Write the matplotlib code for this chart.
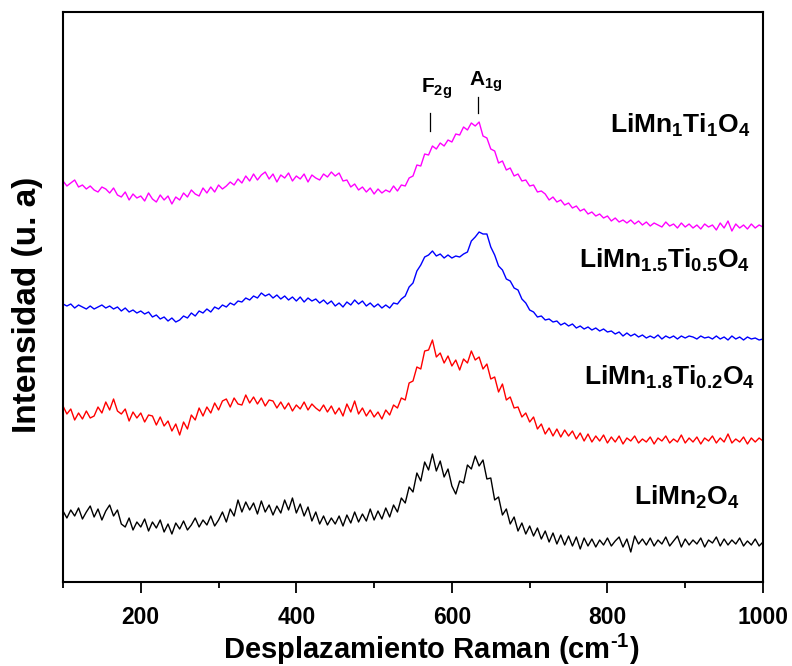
import numpy as np
import matplotlib.pyplot as plt

plt.rcParams['font.family'] = 'Liberation Sans'
plt.rcParams['font.weight'] = 'bold'
plt.rcParams['mathtext.fontset'] = 'custom'
plt.rcParams['mathtext.rm'] = 'Liberation Sans:bold'
plt.rcParams['mathtext.bf'] = 'Liberation Sans:bold'
plt.rcParams['mathtext.it'] = 'Liberation Sans:bold'
plt.rcParams['mathtext.default'] = 'bf'

# Raman shift grid (cm-1), one point every 5 cm-1
shift = np.arange(100, 1001, 5)

# stacked spectra (arbitrary units, offsets already applied)
limn2o4 = [
    71, 64, 72, 66, 74, 63, 70, 76, 65, 73, 62, 71, 77, 66, 72, 58, 55, 64, 52, 60,
    55, 63, 51, 60, 54, 62, 50, 58, 48, 59, 53, 61, 52, 57, 64, 55, 62, 57, 66, 56,
    62, 70, 60, 73, 66, 82, 70, 80, 72, 79, 68, 81, 70, 77, 67, 76, 69, 82, 72, 84,
    69, 78, 66, 75, 61, 70, 58, 66, 57, 64, 58, 66, 56, 67, 59, 70, 60, 68, 61, 73,
    62, 71, 63, 74, 65, 77, 70, 84, 79, 95, 90, 109, 101, 120, 112, 128, 111, 121, 105, 113,
    96, 88, 101, 99, 117, 113, 126, 116, 122, 103, 104, 82, 85, 67, 73, 58, 65, 51, 59, 48,
    56, 46, 54, 43, 51, 40, 49, 38, 47, 37, 46, 36, 45, 33, 44, 36, 43, 35, 42, 37,
    44, 36, 41, 45, 35, 43, 30, 46, 38, 43, 37, 44, 36, 42, 38, 45, 36, 41, 46, 35,
    43, 37, 42, 38, 44, 35, 42, 39, 45, 36, 43, 37, 42, 38, 44, 36, 41, 37, 43, 36,
    40,
]
limn18ti02o4 = [
    176, 168, 173, 162, 169, 163, 171, 164, 166, 175, 169, 180, 172, 183, 171, 168, 173, 161, 170, 164,
    169, 160, 167, 166, 157, 165, 156, 161, 151, 158, 147, 160, 153, 167, 162, 174, 166, 175, 169, 179,
    172, 181, 183, 175, 184, 178, 177, 187, 179, 185, 178, 184, 176, 182, 181, 174, 180, 173, 179, 171,
    177, 173, 180, 172, 178, 174, 171, 177, 170, 176, 168, 174, 166, 178, 170, 181, 168, 174, 166, 172,
    165, 170, 163, 172, 167, 177, 174, 184, 182, 199, 201, 215, 213, 231, 232, 242, 225, 229, 219, 226,
    216, 222, 212, 223, 219, 231, 222, 225, 213, 218, 203, 205, 190, 198, 182, 185, 174, 175, 165, 169,
    160, 165, 153, 158, 148, 154, 146, 153, 145, 152, 146, 151, 143, 149, 141, 148, 140, 146, 141, 147,
    139, 145, 140, 146, 138, 144, 141, 146, 139, 143, 140, 145, 138, 144, 141, 146, 139, 143, 140, 147,
    139, 144, 140, 145, 138, 144, 141, 146, 139, 144, 140, 148, 139, 143, 140, 145, 138, 144, 140, 144,
    141,
]
limn15ti05o4 = [
    278, 276, 278, 274, 277, 275, 273, 276, 273, 275, 277, 274, 276, 273, 275, 271, 274, 270, 272, 269,
    271, 268, 270, 265, 267, 263, 265, 261, 264, 260, 262, 266, 264, 269, 266, 271, 269, 273, 270, 275,
    273, 277, 275, 279, 277, 281, 280, 284, 282, 286, 284, 289, 286, 288, 284, 287, 283, 286, 282, 285,
    281, 285, 280, 284, 281, 283, 279, 282, 278, 281, 276, 279, 275, 280, 277, 282, 278, 281, 276, 279,
    275, 278, 274, 277, 274, 279, 278, 283, 286, 295, 299, 311, 317, 325, 327, 331, 326, 328, 324, 327,
    324, 326, 325, 328, 330, 341, 345, 350, 348, 348, 335, 327, 316, 312, 303, 301, 294, 292, 283, 279,
    272, 270, 265, 266, 262, 263, 260, 261, 257, 259, 256, 258, 254, 256, 253, 255, 252, 254, 251, 253,
    250, 251, 248, 250, 246, 249, 246, 248, 245, 247, 244, 246, 244, 247, 243, 246, 244, 246, 243, 246,
    244, 246, 245, 243, 246, 244, 245, 243, 246, 243, 245, 242, 246, 243, 245, 242, 245, 243, 244, 242,
    243,
]
limn1ti1o4 = [
    401, 396, 399, 402, 395, 397, 393, 396, 392, 390, 395, 393, 389, 394, 387, 385, 390, 382, 388, 384,
    386, 381, 389, 383, 380, 387, 382, 386, 378, 385, 382, 389, 385, 392, 388, 386, 394, 389, 395, 390,
    397, 393, 396, 400, 397, 403, 399, 406, 401, 408, 402, 407, 410, 403, 408, 400, 407, 404, 409, 401,
    406, 403, 408, 400, 407, 404, 402, 408, 405, 410, 406, 409, 401, 402, 395, 398, 392, 395, 390, 394,
    388, 393, 389, 392, 390, 396, 391, 397, 396, 404, 406, 417, 416, 428, 427, 436, 433, 439, 436, 442,
    440, 448, 447, 455, 452, 459, 456, 460, 446, 444, 433, 431, 419, 421, 412, 414, 406, 408, 401, 402,
    396, 397, 390, 391, 388, 382, 385, 380, 382, 377, 379, 374, 376, 371, 373, 368, 370, 366, 368, 364,
    366, 361, 364, 360, 362, 359, 362, 358, 361, 357, 360, 356, 359, 357, 355, 360, 356, 358, 354, 359,
    355, 358, 354, 357, 353, 358, 355, 357, 352, 359, 354, 361, 351, 358, 354, 357, 353, 358, 354, 357,
    355,
]

spectra = [limn2o4, limn18ti02o4, limn15ti05o4, limn1ti1o4]
colors = ['black', 'red', 'blue', 'magenta']
names = [r'LiMn$_2$O$_4$', r'LiMn$_{1.8}$Ti$_{0.2}$O$_4$',
         r'LiMn$_{1.5}$Ti$_{0.5}$O$_4$', r'LiMn$_1$Ti$_1$O$_4$']
label_x = [970, 990, 983, 983]
label_y = [77, 197, 314, 449]

fig = plt.figure(figsize=(7.92, 6.66), dpi=100)
ax = fig.add_axes([63 / 792, 84 / 666, 700 / 792, 570 / 666])

for y, c in zip(spectra, colors):
    ax.plot(shift, y, color=c, lw=1.0)

for name, lx, ly in zip(names, label_x, label_y):
    ax.text(lx, ly, name, fontsize=19, fontweight='bold', ha='right', va='baseline')

# band assignments
ax.plot([572, 572], [451, 469], color='black', lw=0.9)
ax.plot([634, 634], [469, 485], color='black', lw=0.9)
ax.text(560, 489, r'F$_{2g}$', fontsize=15, ha='left', va='baseline')
ax.text(622, 496, r'A$_{1g}$', fontsize=15, ha='left', va='baseline')

ax.set_xlim(100, 1000)
ax.set_ylim(0, 570)
ax.set_xticks([200, 400, 600, 800, 1000])
ax.set_xticks([100, 300, 500, 700, 900], minor=True)
ax.set_yticks([])
ax.tick_params(axis='x', which='major', direction='out', length=8, width=1.3, labelsize=16.5, pad=9)
ax.tick_params(axis='x', which='minor', direction='out', length=4, width=1.3)
for lbl in ax.get_xticklabels():
    lbl.set_fontweight('bold')
for sp in ax.spines.values():
    sp.set_linewidth(1.5)

ax.set_xlabel(r'Desplazamiento Raman (cm$^{\text{-}1}$)', fontsize=21, fontweight='bold', labelpad=2)
ax.set_ylabel('Intensidad (u. a)', fontsize=24, fontweight='bold', labelpad=12)
ax.xaxis.set_label_coords(0.526, -0.088)
ax.yaxis.set_label_coords(-0.028, 0.486)

fig.savefig('out.png', dpi=100)
